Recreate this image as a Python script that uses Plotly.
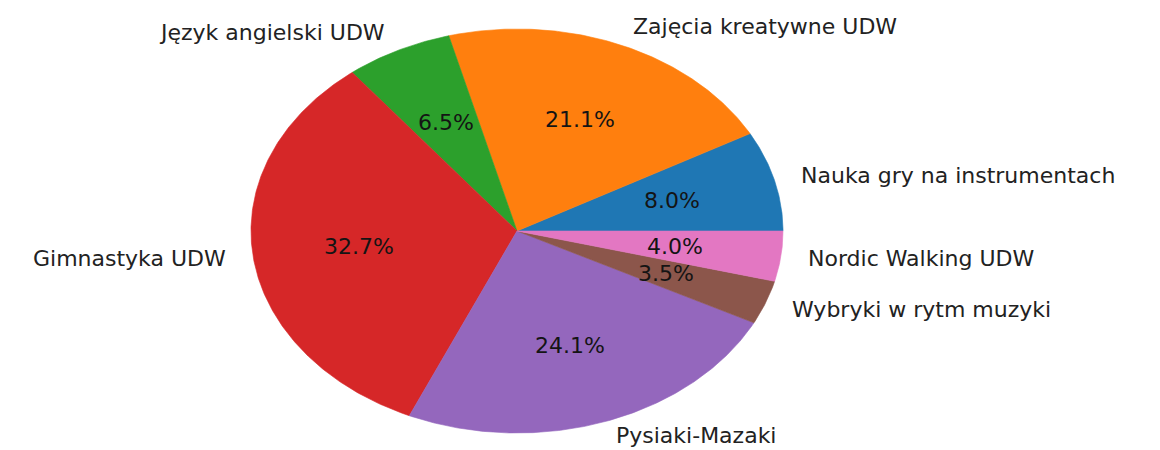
import numpy as np
import plotly.graph_objects as go

# Activity shares (percent)
labels = [
    "Nauka gry na instrumentach",
    "Zajęcia kreatywne UDW",
    "Język angielski UDW",
    "Gimnastyka UDW",
    "Pysiaki-Mazaki",
    "Wybryki w rytm muzyki",
    "Nordic Walking UDW",
]
values = [8.0, 21.1, 6.5, 32.7, 24.1, 3.5, 4.0]
colors = ["#1f77b4", "#ff7f0e", "#2ca02c", "#d62728", "#9467bd", "#8c564b", "#e377c2"]

W, H = 1160, 450
CX, CY = 517, 231          # pie centre in page pixels (from top-left)
RX, RY = 266, 202          # pie radii in pixels (the pie is drawn squashed vertically)
LABEL_R, PCT_R = 1.1, 0.6
FONT = "DejaVu Sans"
FS = 22

fig = go.Figure()

fracs = np.array(values, dtype=float)
fracs = fracs / fracs.sum()
start = 0.0
for lab, frac, col in zip(labels, fracs, colors):
    a0 = 2 * np.pi * start
    a1 = 2 * np.pi * (start + frac)
    n = max(int(frac * 720), 8)
    t = np.linspace(a0, a1, n)
    xs = np.concatenate([[0.0], np.cos(t), [0.0]])
    ys = np.concatenate([[0.0], np.sin(t), [0.0]])
    fig.add_trace(go.Scatter(
        x=xs, y=ys, mode="lines", fill="toself", fillcolor=col,
        line=dict(width=0.6, color=col), hoverinfo="text",
        text=f"{lab}: {frac*100:.1f}%", showlegend=False,
    ))
    mid = (a0 + a1) / 2
    lx, ly = LABEL_R * np.cos(mid), LABEL_R * np.sin(mid)
    # keep the lowest label inside the page
    ys_px = ly * RY
    shift = 0
    if CY - ys_px + FS * 0.65 > H:
        shift = (CY - ys_px + FS * 0.65) - H
    fig.add_annotation(
        x=lx, y=ly, text=lab, showarrow=False,
        xanchor="left" if lx > 0 else "right", yanchor="middle",
        yshift=shift, borderpad=0,
        font=dict(family=FONT, size=FS, color="#222222"),
    )
    px, py = PCT_R * np.cos(mid), PCT_R * np.sin(mid)
    fig.add_annotation(
        x=px, y=py, text=f"{frac*100:.1f}%", showarrow=False,
        xanchor="center", yanchor="middle",
        font=dict(family=FONT, size=FS, color="#141414"),
    )
    start += frac

fig.update_layout(
    width=W, height=H,
    margin=dict(l=0, r=0, t=0, b=0),
    paper_bgcolor="white", plot_bgcolor="white",
    xaxis=dict(range=[-CX / RX, (W - CX) / RX], visible=False, fixedrange=True),
    yaxis=dict(range=[-(H - CY) / RY, CY / RY], visible=False, fixedrange=True),
    showlegend=False,
)

fig.write_html("out.html")
